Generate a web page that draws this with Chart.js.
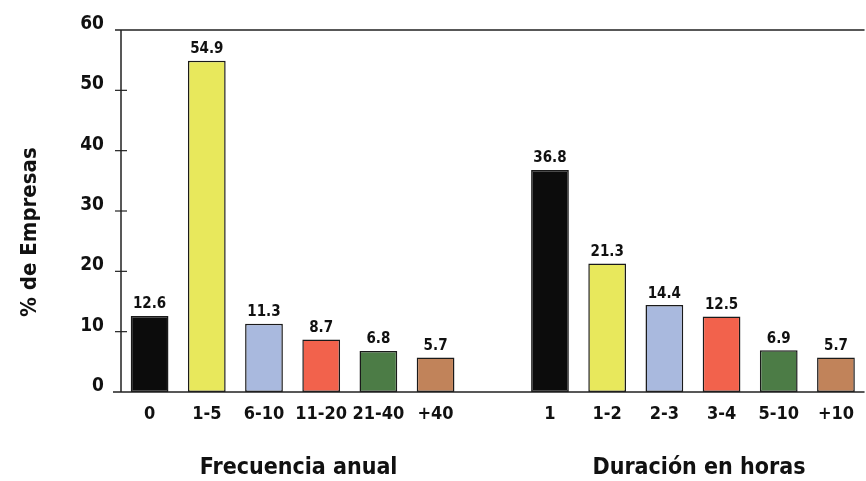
<!DOCTYPE html>
<html>
<head>
<meta charset="utf-8">
<script src="https://cdn.jsdelivr.net/npm/chart.js@4.4.1/dist/chart.umd.min.js"></script>
<style>
  html, body { margin: 0; padding: 0; background: #fff; }
  #wrap { width: 866px; height: 481px; position: relative; }
</style>
</head>
<body>
<div id="wrap"><canvas id="chart"></canvas></div>
<script>
// Categories (empty slot separates the two groups)
const categories = ['0', '1-5', '6-10', '11-20', '21-40', '+40', '', '1', '1-2', '2-3', '3-4', '5-10', '+10'];
const percentValues = [12.6, 54.9, 11.3, 8.7, 6.8, 5.7, null, 36.8, 21.3, 14.4, 12.5, 6.9, 5.7];
const barColors = ['#0c0c0c', '#e8e85c', '#a9b9de', '#f2624c', '#4c7c46', '#c1835a', '#fff',
                   '#0c0c0c', '#e8e85c', '#a9b9de', '#f2624c', '#4c7c46', '#c1835a'];
const yTicks = [0, 10, 20, 30, 40, 50, 60];
const yTitle = '% de Empresas';
const groupTitles = [
    { text: 'Frecuencia anual', from: 0, to: 5 },
    { text: 'Duración en horas', from: 7, to: 12 }
];

const FONT = "'Liberation Sans Narrow', 'DejaVu Sans Condensed', 'Liberation Sans', sans-serif";

// Draws value labels, axis lines, cross ticks and the titles
const decorations = {
    id: 'decorations',
    afterDatasetsDraw(chart) {
        const ctx = chart.ctx;
        const x = chart.scales.x;
        const y = chart.scales.y;
        const meta = chart.getDatasetMeta(0);
        ctx.save();

        // value labels above bars
        ctx.fillStyle = '#111';
        ctx.font = `bold 15px ${FONT}`;
        ctx.textAlign = 'center';
        ctx.textBaseline = 'bottom';
        meta.data.forEach((bar, i) => {
            if (percentValues[i] == null) return;
            ctx.fillText(percentValues[i].toFixed(1), bar.x, bar.y - 4);
        });

        // axis lines
        ctx.strokeStyle = '#222';
        ctx.lineWidth = 1.5;
        ctx.beginPath();
        ctx.moveTo(x.left, y.getPixelForValue(60));
        ctx.lineTo(x.left, y.getPixelForValue(0));
        ctx.moveTo(x.left - 8, y.getPixelForValue(0));
        ctx.lineTo(x.right, y.getPixelForValue(0));
        ctx.moveTo(x.left - 6, y.getPixelForValue(60));
        ctx.lineTo(x.right, y.getPixelForValue(60));
        ctx.stroke();

        // crossing ticks
        ctx.lineWidth = 1.2;
        yTicks.slice(1, -1).forEach(v => {
            const py = y.getPixelForValue(v);
            ctx.beginPath();
            ctx.moveTo(x.left - 6, py);
            ctx.lineTo(x.left + 6, py);
            ctx.stroke();
        });

        // group titles
        ctx.font = `bold 23px ${FONT}`;
        ctx.textBaseline = 'middle';
        groupTitles.forEach(g => {
            const cx = (x.getPixelForValue(g.from) + x.getPixelForValue(g.to)) / 2;
            ctx.fillText(g.text, cx + 6, 468);
        });

        // y axis title
        ctx.font = `bold 22px ${FONT}`;
        ctx.translate(30, y.getPixelForValue(26.5));
        ctx.rotate(-Math.PI / 2);
        ctx.fillText(yTitle, 0, 0);
        ctx.restore();
    }
};

new Chart(document.getElementById('chart'), {
    type: 'bar',
    data: {
        labels: categories,
        datasets: [{
            data: percentValues,
            backgroundColor: barColors,
            borderColor: '#1a1a1a',
            borderWidth: 1.5,
            borderSkipped: false,
            barPercentage: 0.66,
            categoryPercentage: 1.0
        }]
    },
    options: {
        responsive: true,
        maintainAspectRatio: false,
        animation: false,
        layout: { padding: { left: 0, right: 0, top: 30, bottom: 0 } },
        plugins: { legend: { display: false }, tooltip: { enabled: false } },
        scales: {
            x: {
                border: { display: false },
                grid: { display: false, drawTicks: false },
                ticks: {
                    color: '#111',
                    padding: 12,
                    maxRotation: 0,
                    autoSkip: false,
                    font: { family: FONT, size: 18, weight: 'bold' }
                },
                afterFit(scale) { scale.height = 89; }
            },
            y: {
                min: 0,
                max: 60,
                border: { display: false },
                grid: { display: false, drawTicks: false },
                afterBuildTicks(scale) { scale.ticks = yTicks.map(v => ({ value: v })); },
                ticks: {
                    color: '#111',
                    padding: 17,
                    labelOffset: -6,
                    font: { family: FONT, size: 19, weight: 'bold' }
                },
                afterFit(scale) { scale.width = 121; }
            }
        }
    },
    plugins: [decorations]
});
</script>
</body>
</html>
